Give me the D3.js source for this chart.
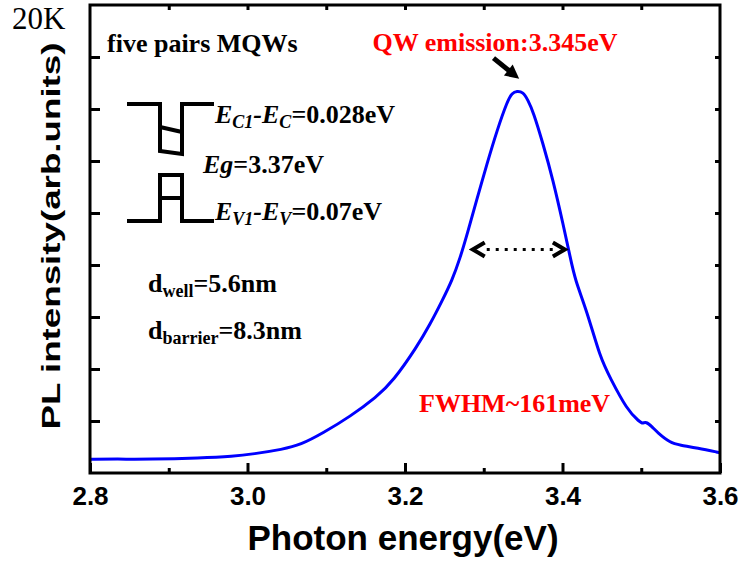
<!DOCTYPE html>
<meta charset="utf-8">
<style>
body { margin: 0; background: #fff; }
svg { display: block; }
.serif { font-family: "Times New Roman", "Liberation Serif", serif; font-weight: bold; }
.sans { font-family: Arial, "Liberation Sans", sans-serif; font-weight: bold; }
</style>
<svg width="741" height="567"></svg>
<script src="https://cdn.jsdelivr.net/npm/d3@7/dist/d3.min.js"></script>
<script>
// PL spectrum (photon energy in eV, intensity in arb. units)
var energy = [2.800, 2.834, 2.876, 2.940, 2.982, 3.007, 3.045, 3.067, 3.096, 3.130,
              3.164, 3.185, 3.215, 3.232, 3.247, 3.260, 3.270, 3.279, 3.291, 3.304,
              3.317, 3.330, 3.336, 3.342, 3.350, 3.356, 3.363, 3.375, 3.388, 3.401,
              3.410, 3.416, 3.431, 3.448, 3.460, 3.482, 3.498, 3.502, 3.506, 3.514,
              3.520, 3.537, 3.549, 3.571, 3.600]
var intensity = [0.263, 0.269, 0.263, 0.288, 0.321, 0.365, 0.456, 0.538, 0.769, 1.083,
                 1.462, 1.769, 2.423, 2.865, 3.308, 3.712, 4.135, 4.596, 5.250, 5.942,
                 6.596, 7.154, 7.308, 7.346, 7.327, 7.173, 6.942, 6.346, 5.635, 4.769,
                 4.135, 3.712, 3.115, 2.212, 1.846, 1.212, 0.981, 0.950, 0.990, 0.885,
                 0.788, 0.577, 0.538, 0.481, 0.390]

var majorTicks = [2.8, 3.0, 3.2, 3.4, 3.6]
var minorTicks = [2.9, 3.1, 3.3, 3.5]
var topTicks = [2.9, 3.0, 3.1, 3.2, 3.3, 3.4, 3.5]
var yTicks = [1, 2, 3, 4, 5, 6, 7, 8]

var peakEnergy = 3.345
var peakArrowTip = 7.58
var fwhmRange = [3.286, 3.403]
var fwhmLevel = 4.3

var svg = d3.select("svg")

var x = d3.scaleLinear().domain([2.8, 3.6]).range([90, 720])
var y = d3.scaleLinear().domain([0, 9]).range([473, 5])

function styleAxis(g){
  g.select(".domain").remove()
  g.selectAll(".tick line").attr("stroke", "#000").attr("stroke-width", 3)
}

// bottom axis: labelled major ticks and short minor ticks, all pointing inward
svg.append("g")
  .attr("transform", "translate(0," + y(0) + ")")
  .call(d3.axisBottom(x).tickValues(majorTicks).tickSizeInner(-10).tickSizeOuter(0).tickFormat(d3.format(".1f")))
  .call(styleAxis)
  .call(g => g.selectAll(".tick text")
    .attr("class", "sans")
    .attr("fill", "#000")
    .attr("font-size", 26)
    .attr("dy", null)
    .attr("y", 32))

svg.append("g")
  .attr("transform", "translate(0," + y(0) + ")")
  .call(d3.axisBottom(x).tickValues(minorTicks).tickSizeInner(-5).tickSizeOuter(0).tickFormat(""))
  .call(styleAxis)

svg.append("g")
  .attr("transform", "translate(0," + y(9) + ")")
  .call(d3.axisTop(x).tickValues(topTicks).tickSizeInner(-5).tickSizeOuter(0).tickFormat(""))
  .call(styleAxis)

svg.append("g")
  .attr("transform", "translate(" + x(2.8) + ",0)")
  .call(d3.axisLeft(y).tickValues(yTicks).tickSizeInner(-10).tickSizeOuter(0).tickFormat(""))
  .call(styleAxis)

svg.append("g")
  .attr("transform", "translate(" + x(3.6) + ",0)")
  .call(d3.axisRight(y).tickValues(yTicks).tickSizeInner(-5).tickSizeOuter(0).tickFormat(""))
  .call(styleAxis)

// spectrum
var line = d3.line()
  .x((d, i) => x(energy[i]))
  .y((d, i) => y(intensity[i]))
  .curve(d3.curveBasis)

svg.append("path")
  .datum(intensity)
  .attr("d", line)
  .attr("fill", "none")
  .attr("stroke", "#0000ff")
  .attr("stroke-width", 3)
  .attr("stroke-linejoin", "round")

// frame
svg.append("rect")
  .attr("x", x(2.8))
  .attr("y", y(9))
  .attr("width", x(3.6) - x(2.8))
  .attr("height", y(0) - y(9))
  .attr("fill", "none")
  .attr("stroke", "#000")
  .attr("stroke-width", 3)

// axis titles
svg.append("text")
  .attr("class", "sans")
  .attr("x", 403)
  .attr("y", 550)
  .attr("text-anchor", "middle")
  .attr("font-size", 35)
  .text("Photon energy(eV)")

svg.append("text")
  .attr("class", "sans")
  .attr("transform", "translate(60,236) rotate(-90)")
  .attr("text-anchor", "middle")
  .attr("font-size", 26)
  .attr("textLength", 387)
  .attr("lengthAdjust", "spacingAndGlyphs")
  .text("PL intensity(arb.units)")

// temperature
svg.append("text")
  .attr("x", 12)
  .attr("y", 29)
  .attr("font-family", "'Times New Roman', 'Liberation Serif', serif")
  .attr("font-size", 31)
  .text("20K")

// peak annotation and arrow
svg.append("text")
  .attr("class", "serif")
  .attr("x", 495)
  .attr("y", 51)
  .attr("text-anchor", "middle")
  .attr("font-size", 26)
  .attr("fill", "#ff0000")
  .text("QW emission:3.345eV")

var tipX = x(peakEnergy), tipY = y(peakArrowTip)
var ang = Math.atan2(21, 26), ux = Math.cos(ang), uy = Math.sin(ang)
svg.append("line")
  .attr("x1", tipX - 33 * ux).attr("y1", tipY - 33 * uy)
  .attr("x2", tipX - 10 * ux).attr("y2", tipY - 10 * uy)
  .attr("stroke", "#000")
  .attr("stroke-width", 5)
svg.append("path")
  .attr("d", "M" + tipX + "," + tipY +
    "L" + (tipX - 14 * ux - 7 * uy) + "," + (tipY - 14 * uy + 7 * ux) +
    "L" + (tipX - 14 * ux + 7 * uy) + "," + (tipY - 14 * uy - 7 * ux) + "Z")
  .attr("fill", "#000")

// FWHM double arrow
var fy = y(fwhmLevel), fx1 = x(fwhmRange[0]), fx2 = x(fwhmRange[1])
svg.append("line")
  .attr("x1", fx1 + 14).attr("x2", fx2 - 12)
  .attr("y1", fy).attr("y2", fy)
  .attr("stroke", "#000")
  .attr("stroke-width", 3)
  .attr("stroke-dasharray", "3,6")
svg.append("path")
  .attr("d", "M" + (fx1 + 12) + "," + (fy - 7) + "L" + fx1 + "," + fy + "L" + (fx1 + 12) + "," + (fy + 7) +
    "M" + (fx2 - 12) + "," + (fy - 7) + "L" + fx2 + "," + fy + "L" + (fx2 - 12) + "," + (fy + 7))
  .attr("fill", "none")
  .attr("stroke", "#000")
  .attr("stroke-width", 4)

svg.append("text")
  .attr("class", "serif")
  .attr("x", 419)
  .attr("y", 412)
  .attr("font-size", 26)
  .attr("fill", "#ff0000")
  .text("FWHM~161meV")

// inset: sample description
svg.append("text")
  .attr("class", "serif")
  .attr("x", 107)
  .attr("y", 52)
  .attr("font-size", 26)
  .text("five pairs MQWs")

function richText(px, py, parts){
  var t = svg.append("text").attr("class", "serif").attr("x", px).attr("y", py).attr("font-size", 26)
  var shift = 0
  parts.forEach(p => {
    var s = t.append("tspan").text(p.t)
    if(p.i) s.attr("font-style", "italic")
    var want = p.sub ? 5 : 0
    if(want !== shift){
      s.attr("dy", want - shift)
      shift = want
    }
    if(p.sub) s.attr("font-size", 18)
  })
  return t
}

richText(215, 123, [{t: "E", i: 1}, {t: "C1", i: 1, sub: 1}, {t: "-E", i: 1}, {t: "C", i: 1, sub: 1}, {t: "=0.028eV"}])
richText(203, 173, [{t: "Eg", i: 1}, {t: "=3.37eV"}])
richText(215, 220, [{t: "E", i: 1}, {t: "V1", i: 1, sub: 1}, {t: "-E", i: 1}, {t: "V", i: 1, sub: 1}, {t: "=0.07eV"}])
richText(148, 292, [{t: "d"}, {t: "well", sub: 1}, {t: "=5.6nm"}])
richText(148, 339, [{t: "d"}, {t: "barrier", sub: 1}, {t: "=8.3nm"}])

// inset: band diagram of one well (conduction band above, valence band below)
var band = svg.append("g")
  .attr("fill", "none")
  .attr("stroke", "#000")
  .attr("stroke-width", 4)
band.append("path").attr("d", "M127,104H160V151L182,154V104H214")
band.append("path").attr("d", "M160,127L182,132")
band.append("path").attr("d", "M127,221H160V175H182V221H214")
band.append("path").attr("d", "M160,198H182")
</script>
